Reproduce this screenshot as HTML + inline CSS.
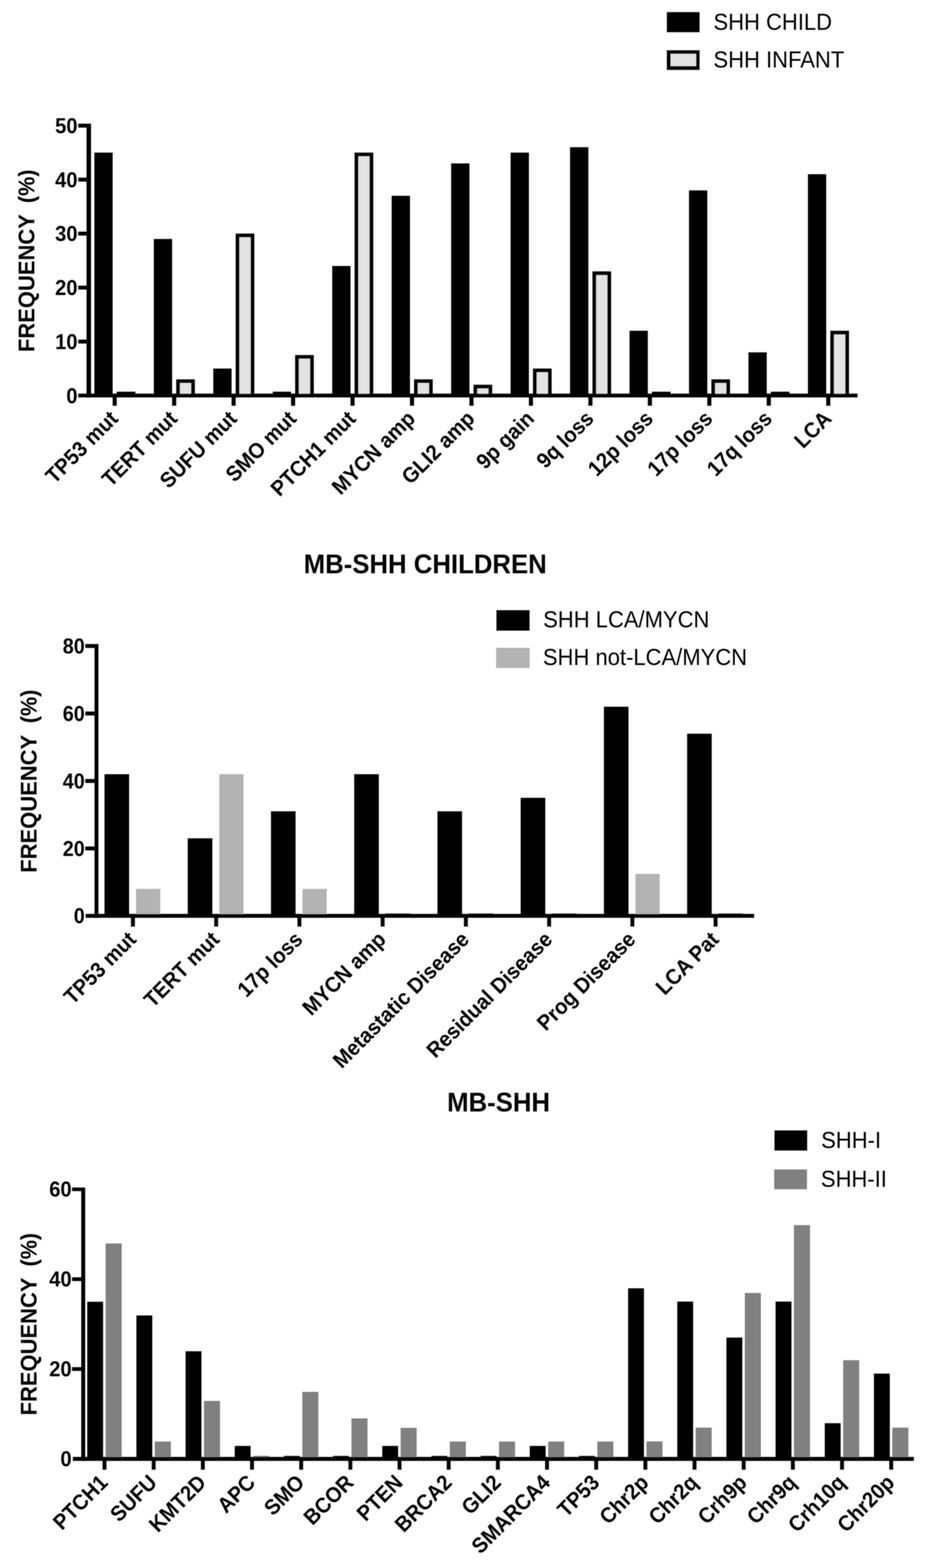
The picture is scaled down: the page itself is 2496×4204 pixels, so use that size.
<!DOCTYPE html>
<html><head><meta charset="utf-8"><title>MB-SHH frequency charts</title>
<style>html,body{margin:0;padding:0;background:#fff;overflow:hidden;}svg{display:block;}
text{font-family:"Liberation Sans", Arial, Helvetica, sans-serif;fill:#000;}</style></head>
<body><svg width="2496" height="4204" viewBox="0 0 2496 4204">
<defs>
<filter id="f1" x="0" y="0" width="2496" height="1400" filterUnits="userSpaceOnUse"><feGaussianBlur stdDeviation="0.8"/></filter>
<filter id="f2" x="0" y="1400" width="2496" height="1500" filterUnits="userSpaceOnUse"><feGaussianBlur stdDeviation="0.8"/></filter>
<filter id="f3" x="0" y="2900" width="2496" height="1304" filterUnits="userSpaceOnUse"><feGaussianBlur stdDeviation="0.8"/></filter>
</defs>
<rect width="2496" height="4204" fill="#fff"/>
<g filter="url(#f1)">
<rect x="232.00" y="331.60" width="12.00" height="733.90" fill="#000"/>
<rect x="209.70" y="1055.40" width="2089.30" height="10.10" fill="#000"/>
<text transform="translate(207.70 1080.50) scale(1 1.05)" font-size="54" font-weight="bold" text-anchor="end">0</text>
<rect x="209.70" y="910.56" width="22.30" height="10.50" fill="#000"/>
<text transform="translate(207.70 935.76) scale(1 1.05)" font-size="54" font-weight="bold" text-anchor="end">10</text>
<rect x="209.70" y="765.82" width="22.30" height="10.50" fill="#000"/>
<text transform="translate(207.70 791.02) scale(1 1.05)" font-size="54" font-weight="bold" text-anchor="end">20</text>
<rect x="209.70" y="621.08" width="22.30" height="10.50" fill="#000"/>
<text transform="translate(207.70 646.28) scale(1 1.05)" font-size="54" font-weight="bold" text-anchor="end">30</text>
<rect x="209.70" y="476.34" width="22.30" height="10.50" fill="#000"/>
<text transform="translate(207.70 501.54) scale(1 1.05)" font-size="54" font-weight="bold" text-anchor="end">40</text>
<rect x="209.70" y="331.60" width="22.30" height="10.50" fill="#000"/>
<text transform="translate(207.70 356.80) scale(1 1.05)" font-size="54" font-weight="bold" text-anchor="end">50</text>
<rect x="302.00" y="1060.50" width="11.00" height="27.30" fill="#000"/>
<rect x="253.00" y="409.17" width="49.00" height="651.33" fill="#000"/>
<rect x="313.00" y="1050.20" width="50.00" height="6.00" fill="#000"/>
<text transform="translate(319.50 1125.80) rotate(-45) scale(1 1.06)" font-size="54.5" font-weight="bold" text-anchor="end">TP53 mut</text>
<rect x="461.42" y="1060.50" width="11.00" height="27.30" fill="#000"/>
<rect x="412.42" y="640.75" width="49.00" height="419.75" fill="#000"/>
<rect x="472.42" y="1017.08" width="50.00" height="43.42" fill="#000"/>
<rect x="482.42" y="1027.08" width="30.00" height="28.42" fill="#e3e3e3"/>
<text transform="translate(478.92 1125.80) rotate(-45) scale(1 1.06)" font-size="54.5" font-weight="bold" text-anchor="end">TERT mut</text>
<rect x="620.84" y="1060.50" width="11.00" height="27.30" fill="#000"/>
<rect x="571.84" y="988.13" width="49.00" height="72.37" fill="#000"/>
<rect x="631.84" y="626.28" width="50.00" height="434.22" fill="#000"/>
<rect x="641.84" y="636.28" width="30.00" height="419.22" fill="#e3e3e3"/>
<text transform="translate(638.34 1125.80) rotate(-45) scale(1 1.06)" font-size="54.5" font-weight="bold" text-anchor="end">SUFU mut</text>
<rect x="780.26" y="1060.50" width="11.00" height="27.30" fill="#000"/>
<rect x="731.26" y="1050.20" width="49.00" height="6.00" fill="#000"/>
<rect x="791.26" y="951.94" width="50.00" height="108.56" fill="#000"/>
<rect x="801.26" y="961.94" width="30.00" height="93.56" fill="#e3e3e3"/>
<text transform="translate(797.76 1125.80) rotate(-45) scale(1 1.06)" font-size="54.5" font-weight="bold" text-anchor="end">SMO mut</text>
<rect x="939.68" y="1060.50" width="11.00" height="27.30" fill="#000"/>
<rect x="890.68" y="713.12" width="49.00" height="347.38" fill="#000"/>
<rect x="950.68" y="409.17" width="50.00" height="651.33" fill="#000"/>
<rect x="960.68" y="419.17" width="30.00" height="636.33" fill="#e3e3e3"/>
<text transform="translate(957.18 1125.80) rotate(-45) scale(1 1.06)" font-size="54.5" font-weight="bold" text-anchor="end">PTCH1 mut</text>
<rect x="1099.10" y="1060.50" width="11.00" height="27.30" fill="#000"/>
<rect x="1050.10" y="524.96" width="49.00" height="535.54" fill="#000"/>
<rect x="1110.10" y="1017.08" width="50.00" height="43.42" fill="#000"/>
<rect x="1120.10" y="1027.08" width="30.00" height="28.42" fill="#e3e3e3"/>
<text transform="translate(1116.60 1125.80) rotate(-45) scale(1 1.06)" font-size="54.5" font-weight="bold" text-anchor="end">MYCN amp</text>
<rect x="1258.52" y="1060.50" width="11.00" height="27.30" fill="#000"/>
<rect x="1209.52" y="438.12" width="49.00" height="622.38" fill="#000"/>
<rect x="1269.52" y="1031.55" width="50.00" height="28.95" fill="#000"/>
<rect x="1279.52" y="1041.55" width="30.00" height="13.95" fill="#e3e3e3"/>
<text transform="translate(1276.02 1125.80) rotate(-45) scale(1 1.06)" font-size="54.5" font-weight="bold" text-anchor="end">GLI2 amp</text>
<rect x="1417.94" y="1060.50" width="11.00" height="27.30" fill="#000"/>
<rect x="1368.94" y="409.17" width="49.00" height="651.33" fill="#000"/>
<rect x="1428.94" y="988.13" width="50.00" height="72.37" fill="#000"/>
<rect x="1438.94" y="998.13" width="30.00" height="57.37" fill="#e3e3e3"/>
<text transform="translate(1435.44 1125.80) rotate(-45) scale(1 1.06)" font-size="54.5" font-weight="bold" text-anchor="end">9p gain</text>
<rect x="1577.36" y="1060.50" width="11.00" height="27.30" fill="#000"/>
<rect x="1528.36" y="394.70" width="49.00" height="665.80" fill="#000"/>
<rect x="1588.36" y="727.60" width="50.00" height="332.90" fill="#000"/>
<rect x="1598.36" y="737.60" width="30.00" height="317.90" fill="#e3e3e3"/>
<text transform="translate(1594.86 1125.80) rotate(-45) scale(1 1.06)" font-size="54.5" font-weight="bold" text-anchor="end">9q loss</text>
<rect x="1736.78" y="1060.50" width="11.00" height="27.30" fill="#000"/>
<rect x="1687.78" y="886.81" width="49.00" height="173.69" fill="#000"/>
<rect x="1747.78" y="1050.20" width="50.00" height="6.00" fill="#000"/>
<text transform="translate(1754.28 1125.80) rotate(-45) scale(1 1.06)" font-size="54.5" font-weight="bold" text-anchor="end">12p loss</text>
<rect x="1896.20" y="1060.50" width="11.00" height="27.30" fill="#000"/>
<rect x="1847.20" y="510.49" width="49.00" height="550.01" fill="#000"/>
<rect x="1907.20" y="1017.08" width="50.00" height="43.42" fill="#000"/>
<rect x="1917.20" y="1027.08" width="30.00" height="28.42" fill="#e3e3e3"/>
<text transform="translate(1913.70 1125.80) rotate(-45) scale(1 1.06)" font-size="54.5" font-weight="bold" text-anchor="end">17p loss</text>
<rect x="2055.62" y="1060.50" width="11.00" height="27.30" fill="#000"/>
<rect x="2006.62" y="944.71" width="49.00" height="115.79" fill="#000"/>
<rect x="2066.62" y="1050.20" width="50.00" height="6.00" fill="#000"/>
<text transform="translate(2073.12 1125.80) rotate(-45) scale(1 1.06)" font-size="54.5" font-weight="bold" text-anchor="end">17q loss</text>
<rect x="2215.04" y="1060.50" width="11.00" height="27.30" fill="#000"/>
<rect x="2166.04" y="467.07" width="49.00" height="593.43" fill="#000"/>
<rect x="2226.04" y="886.81" width="50.00" height="173.69" fill="#000"/>
<rect x="2236.04" y="896.81" width="30.00" height="158.69" fill="#e3e3e3"/>
<text transform="translate(2232.54 1125.80) rotate(-45) scale(1 1.06)" font-size="54.5" font-weight="bold" text-anchor="end">LCA</text>
<rect x="1787.80" y="32.50" width="87.70" height="53.80" fill="#000"/>
<rect x="1787.80" y="134.80" width="87.70" height="52.60" fill="#000"/>
<rect x="1797.90" y="144.30" width="68.10" height="33.00" fill="#e3e3e3"/>
<text transform="translate(1912.80 80.00) scale(1 1.07)" font-size="59">SHH CHILD</text>
<text transform="translate(1912.80 181.20) scale(1 1.07)" font-size="59">SHH INFANT</text>
<text transform="translate(91.70 943.94) rotate(-90) scale(1 1.05)" font-size="58.9" font-weight="bold">FREQUENCY</text>
<text transform="translate(91.70 544.38) rotate(-90) scale(1 1.05)" font-size="57.8" font-weight="bold">(%)</text>
</g>
<g filter="url(#f2)">
<rect x="253.40" y="1726.70" width="10.50" height="734.30" fill="#000"/>
<rect x="229.70" y="2450.30" width="1792.10" height="10.40" fill="#000"/>
<text transform="translate(227.20 2475.40) scale(1 1.08)" font-size="53" font-weight="bold" text-anchor="end">0</text>
<rect x="228.70" y="2269.50" width="24.70" height="10.50" fill="#000"/>
<text transform="translate(227.20 2294.50) scale(1 1.08)" font-size="53" font-weight="bold" text-anchor="end">20</text>
<rect x="228.70" y="2088.60" width="24.70" height="10.50" fill="#000"/>
<text transform="translate(227.20 2113.60) scale(1 1.08)" font-size="53" font-weight="bold" text-anchor="end">40</text>
<rect x="228.70" y="1907.70" width="24.70" height="10.50" fill="#000"/>
<text transform="translate(227.20 1932.70) scale(1 1.08)" font-size="53" font-weight="bold" text-anchor="end">60</text>
<rect x="228.70" y="1726.70" width="24.70" height="10.50" fill="#000"/>
<text transform="translate(227.20 1751.80) scale(1 1.08)" font-size="53" font-weight="bold" text-anchor="end">80</text>
<rect x="351.20" y="2455.60" width="10.40" height="28.60" fill="#000"/>
<rect x="280.20" y="2075.71" width="65.90" height="379.89" fill="#000"/>
<rect x="364.70" y="2383.24" width="65.00" height="67.36" fill="#b3b3b3"/>
<text transform="translate(368.40 2522.20) rotate(-45) scale(1 1.06)" font-size="54.5" font-weight="bold" text-anchor="end">TP53 mut</text>
<rect x="574.35" y="2455.60" width="10.40" height="28.60" fill="#000"/>
<rect x="503.35" y="2247.57" width="65.90" height="208.03" fill="#000"/>
<rect x="587.85" y="2075.71" width="65.00" height="374.89" fill="#b3b3b3"/>
<text transform="translate(591.55 2522.20) rotate(-45) scale(1 1.06)" font-size="54.5" font-weight="bold" text-anchor="end">TERT mut</text>
<rect x="797.50" y="2455.60" width="10.40" height="28.60" fill="#000"/>
<rect x="726.50" y="2175.20" width="65.90" height="280.39" fill="#000"/>
<rect x="811.00" y="2383.24" width="65.00" height="67.36" fill="#b3b3b3"/>
<text transform="translate(814.70 2522.20) rotate(-45) scale(1 1.06)" font-size="54.5" font-weight="bold" text-anchor="end">17p loss</text>
<rect x="1020.65" y="2455.60" width="10.40" height="28.60" fill="#000"/>
<rect x="949.65" y="2075.71" width="65.90" height="379.89" fill="#000"/>
<rect x="1034.15" y="2449.00" width="65.00" height="1.50" fill="#222"/>
<text transform="translate(1037.85 2522.20) rotate(-45) scale(1 1.06)" font-size="54.5" font-weight="bold" text-anchor="end">MYCN amp</text>
<rect x="1243.80" y="2455.60" width="10.40" height="28.60" fill="#000"/>
<rect x="1172.80" y="2175.20" width="65.90" height="280.39" fill="#000"/>
<rect x="1257.30" y="2449.00" width="65.00" height="1.50" fill="#222"/>
<text transform="translate(1261.00 2522.20) rotate(-45) scale(1 1.06)" font-size="54.5" font-weight="bold" text-anchor="end">Metastatic Disease</text>
<rect x="1466.95" y="2455.60" width="10.40" height="28.60" fill="#000"/>
<rect x="1395.95" y="2139.03" width="65.90" height="316.57" fill="#000"/>
<rect x="1480.45" y="2449.00" width="65.00" height="1.50" fill="#222"/>
<text transform="translate(1484.15 2522.20) rotate(-45) scale(1 1.06)" font-size="54.5" font-weight="bold" text-anchor="end">Residual Disease</text>
<rect x="1690.10" y="2455.60" width="10.40" height="28.60" fill="#000"/>
<rect x="1619.10" y="1894.81" width="65.90" height="560.79" fill="#000"/>
<rect x="1703.60" y="2342.99" width="65.00" height="107.61" fill="#b3b3b3"/>
<text transform="translate(1707.30 2522.20) rotate(-45) scale(1 1.06)" font-size="54.5" font-weight="bold" text-anchor="end">Prog Disease</text>
<rect x="1913.25" y="2455.60" width="10.40" height="28.60" fill="#000"/>
<rect x="1842.25" y="1967.17" width="65.90" height="488.43" fill="#000"/>
<rect x="1926.75" y="2449.00" width="65.00" height="1.50" fill="#222"/>
<text transform="translate(1930.45 2522.20) rotate(-45) scale(1 1.06)" font-size="54.5" font-weight="bold" text-anchor="end">LCA Pat</text>
<rect x="1331.00" y="1636.00" width="88.70" height="54.80" fill="#000"/>
<rect x="1330.00" y="1737.00" width="90.00" height="54.00" fill="#b3b3b3"/>
<text transform="translate(1456.20 1682.00) scale(1 1.07)" font-size="59">SHH LCA/MYCN</text>
<text transform="translate(1455.50 1782.80) scale(1 1.07)" font-size="59">SHH not-LCA/MYCN</text>
<text transform="translate(1140.00 1536.50) scale(1 1.05)" font-size="69" font-weight="bold" text-anchor="middle">MB-SHH CHILDREN</text>
<text transform="translate(97.80 2339.94) rotate(-90) scale(1 1.05)" font-size="58.9" font-weight="bold">FREQUENCY</text>
<text transform="translate(97.80 1938.88) rotate(-90) scale(1 1.05)" font-size="57.8" font-weight="bold">(%)</text>
</g>
<g filter="url(#f3)">
<rect x="217.80" y="3183.90" width="10.60" height="733.00" fill="#000"/>
<rect x="195.30" y="3906.20" width="2254.60" height="10.60" fill="#000"/>
<text transform="translate(192.00 3930.50) scale(1 1.05)" font-size="54" font-weight="bold" text-anchor="end">0</text>
<rect x="193.20" y="3665.56" width="24.60" height="10.00" fill="#000"/>
<text transform="translate(192.00 3689.56) scale(1 1.05)" font-size="54" font-weight="bold" text-anchor="end">20</text>
<rect x="193.20" y="3424.62" width="24.60" height="10.00" fill="#000"/>
<text transform="translate(192.00 3448.62) scale(1 1.05)" font-size="54" font-weight="bold" text-anchor="end">40</text>
<rect x="193.20" y="3183.90" width="24.60" height="9.60" fill="#000"/>
<text transform="translate(192.00 3207.70) scale(1 1.05)" font-size="54" font-weight="bold" text-anchor="end">60</text>
<rect x="275.00" y="3911.50" width="10.40" height="28.90" fill="#000"/>
<rect x="233.90" y="3490.20" width="42.50" height="421.30" fill="#000"/>
<rect x="283.20" y="3333.90" width="43.00" height="572.60" fill="#808080"/>
<text transform="translate(292.20 3978.40) rotate(-45) scale(1 1.06)" font-size="54.5" font-weight="bold" text-anchor="end">PTCH1</text>
<rect x="406.82" y="3911.50" width="10.40" height="28.90" fill="#000"/>
<rect x="365.72" y="3526.90" width="42.50" height="384.60" fill="#000"/>
<rect x="415.02" y="3864.90" width="43.00" height="41.60" fill="#808080"/>
<text transform="translate(424.02 3978.40) rotate(-45) scale(1 1.06)" font-size="54.5" font-weight="bold" text-anchor="end">SUFU</text>
<rect x="538.64" y="3911.50" width="10.40" height="28.90" fill="#000"/>
<rect x="497.54" y="3622.90" width="42.50" height="288.60" fill="#000"/>
<rect x="546.84" y="3756.00" width="43.00" height="150.50" fill="#808080"/>
<text transform="translate(555.84 3978.40) rotate(-45) scale(1 1.06)" font-size="54.5" font-weight="bold" text-anchor="end">KMT2D</text>
<rect x="670.46" y="3911.50" width="10.40" height="28.90" fill="#000"/>
<rect x="629.36" y="3876.70" width="42.50" height="34.80" fill="#000"/>
<rect x="678.66" y="3903.50" width="43.00" height="3.00" fill="#6a6a6a"/>
<text transform="translate(687.66 3978.40) rotate(-45) scale(1 1.06)" font-size="54.5" font-weight="bold" text-anchor="end">APC</text>
<rect x="802.28" y="3911.50" width="10.40" height="28.90" fill="#000"/>
<rect x="761.18" y="3903.50" width="42.50" height="3.00" fill="#000"/>
<rect x="810.48" y="3731.80" width="43.00" height="174.70" fill="#808080"/>
<text transform="translate(819.48 3978.40) rotate(-45) scale(1 1.06)" font-size="54.5" font-weight="bold" text-anchor="end">SMO</text>
<rect x="934.10" y="3911.50" width="10.40" height="28.90" fill="#000"/>
<rect x="893.00" y="3903.50" width="42.50" height="3.00" fill="#000"/>
<rect x="942.30" y="3802.90" width="43.00" height="103.60" fill="#808080"/>
<text transform="translate(951.30 3978.40) rotate(-45) scale(1 1.06)" font-size="54.5" font-weight="bold" text-anchor="end">BCOR</text>
<rect x="1065.92" y="3911.50" width="10.40" height="28.90" fill="#000"/>
<rect x="1024.82" y="3876.70" width="42.50" height="34.80" fill="#000"/>
<rect x="1074.12" y="3828.20" width="43.00" height="78.30" fill="#808080"/>
<text transform="translate(1083.12 3978.40) rotate(-45) scale(1 1.06)" font-size="54.5" font-weight="bold" text-anchor="end">PTEN</text>
<rect x="1197.74" y="3911.50" width="10.40" height="28.90" fill="#000"/>
<rect x="1156.64" y="3903.50" width="42.50" height="3.00" fill="#000"/>
<rect x="1205.94" y="3864.90" width="43.00" height="41.60" fill="#808080"/>
<text transform="translate(1214.94 3978.40) rotate(-45) scale(1 1.06)" font-size="54.5" font-weight="bold" text-anchor="end">BRCA2</text>
<rect x="1329.56" y="3911.50" width="10.40" height="28.90" fill="#000"/>
<rect x="1288.46" y="3903.50" width="42.50" height="3.00" fill="#000"/>
<rect x="1337.76" y="3864.90" width="43.00" height="41.60" fill="#808080"/>
<text transform="translate(1346.76 3978.40) rotate(-45) scale(1 1.06)" font-size="54.5" font-weight="bold" text-anchor="end">GLI2</text>
<rect x="1461.38" y="3911.50" width="10.40" height="28.90" fill="#000"/>
<rect x="1420.28" y="3876.70" width="42.50" height="34.80" fill="#000"/>
<rect x="1469.58" y="3864.90" width="43.00" height="41.60" fill="#808080"/>
<text transform="translate(1478.58 3978.40) rotate(-45) scale(1 1.06)" font-size="54.5" font-weight="bold" text-anchor="end">SMARCA4</text>
<rect x="1593.20" y="3911.50" width="10.40" height="28.90" fill="#000"/>
<rect x="1552.10" y="3903.50" width="42.50" height="3.00" fill="#000"/>
<rect x="1601.40" y="3864.90" width="43.00" height="41.60" fill="#808080"/>
<text transform="translate(1610.40 3978.40) rotate(-45) scale(1 1.06)" font-size="54.5" font-weight="bold" text-anchor="end">TP53</text>
<rect x="1725.02" y="3911.50" width="10.40" height="28.90" fill="#000"/>
<rect x="1683.92" y="3454.10" width="42.50" height="457.40" fill="#000"/>
<rect x="1733.22" y="3864.50" width="43.00" height="42.00" fill="#808080"/>
<text transform="translate(1742.22 3978.40) rotate(-45) scale(1 1.06)" font-size="54.5" font-weight="bold" text-anchor="end">Chr2p</text>
<rect x="1856.84" y="3911.50" width="10.40" height="28.90" fill="#000"/>
<rect x="1815.74" y="3489.70" width="42.50" height="421.80" fill="#000"/>
<rect x="1865.04" y="3827.60" width="43.00" height="78.90" fill="#808080"/>
<text transform="translate(1874.04 3978.40) rotate(-45) scale(1 1.06)" font-size="54.5" font-weight="bold" text-anchor="end">Chr2q</text>
<rect x="1988.66" y="3911.50" width="10.40" height="28.90" fill="#000"/>
<rect x="1947.56" y="3586.20" width="42.50" height="325.30" fill="#000"/>
<rect x="1996.86" y="3466.60" width="43.00" height="439.90" fill="#808080"/>
<text transform="translate(2005.86 3978.40) rotate(-45) scale(1 1.06)" font-size="54.5" font-weight="bold" text-anchor="end">Crh9p</text>
<rect x="2120.48" y="3911.50" width="10.40" height="28.90" fill="#000"/>
<rect x="2079.38" y="3489.70" width="42.50" height="421.80" fill="#000"/>
<rect x="2128.68" y="3284.80" width="43.00" height="621.70" fill="#808080"/>
<text transform="translate(2137.68 3978.40) rotate(-45) scale(1 1.06)" font-size="54.5" font-weight="bold" text-anchor="end">Chr9q</text>
<rect x="2252.30" y="3911.50" width="10.40" height="28.90" fill="#000"/>
<rect x="2211.20" y="3815.80" width="42.50" height="95.70" fill="#000"/>
<rect x="2260.50" y="3646.80" width="43.00" height="259.70" fill="#808080"/>
<text transform="translate(2269.50 3978.40) rotate(-45) scale(1 1.06)" font-size="54.5" font-weight="bold" text-anchor="end">Crh10q</text>
<rect x="2384.12" y="3911.50" width="10.40" height="28.90" fill="#000"/>
<rect x="2343.02" y="3682.80" width="42.50" height="228.70" fill="#000"/>
<rect x="2392.32" y="3827.60" width="43.00" height="78.90" fill="#808080"/>
<text transform="translate(2401.32 3978.40) rotate(-45) scale(1 1.06)" font-size="54.5" font-weight="bold" text-anchor="end">Chr20p</text>
<rect x="2076.40" y="3030.80" width="87.60" height="53.90" fill="#000"/>
<rect x="2075.60" y="3135.40" width="87.90" height="53.10" fill="#808080"/>
<text transform="translate(2201.50 3078.00) scale(1 1.07)" font-size="59">SHH-I</text>
<text transform="translate(2200.80 3182.00) scale(1 1.07)" font-size="59">SHH-II</text>
<text transform="translate(1336.70 2980.40) scale(1 1.05)" font-size="69" font-weight="bold" text-anchor="middle">MB-SHH</text>
<text transform="translate(97.70 3794.94) rotate(-90) scale(1 1.05)" font-size="58.9" font-weight="bold">FREQUENCY</text>
<text transform="translate(97.70 3395.58) rotate(-90) scale(1 1.05)" font-size="57.8" font-weight="bold">(%)</text>
</g>
</svg></body></html>
